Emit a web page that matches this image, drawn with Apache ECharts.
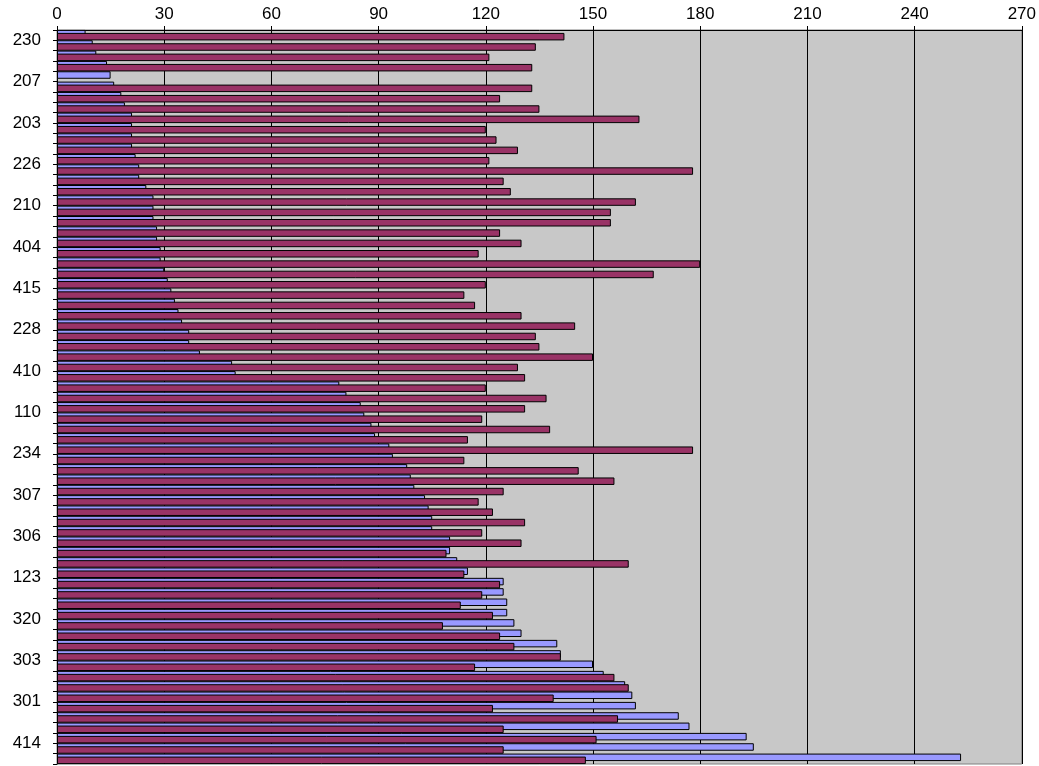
<!DOCTYPE html>
<html>
<head>
<meta charset="utf-8">
<script src="https://cdn.jsdelivr.net/npm/echarts@6/dist/echarts.min.js"></script>
<style>
html,body{margin:0;padding:0;background:#fff;}
#chart{width:1039px;height:766px;}
</style>
</head>
<body>
<div id="chart"></div>
<script>
// Category names (only every 4th is shown in the picture; others unknown)
var categories = [
  '230','','','','207','','','','203','','','','226','','','',
  '210','','','','404','','','','415','','','','228','','','',
  '410','','','','110','','','','234','','','','307','','','',
  '306','','','','123','','','','320','','','','303','','','',
  '301','','','','414','',''
];
// Series 1 (light blue)
var blueValues = [
  8,10,11,14,15,16,18,19,21,21,21,21,22,23,23,25,
  27,27,27,28,28,29,29,30,31,32,33,34,35,37,37,40,
  49,50,79,81,85,86,88,89,93,94,98,99,100,103,104,105,
  105,110,110,112,115,125,125,126,126,128,130,140,141,150,
  153,159,161,162,174,177,193,195,253
];
// Series 2 (maroon)
var maroonValues = [
  142,134,121,133,null,133,124,135,163,120,123,129,121,178,125,127,
  162,155,155,124,130,118,180,167,120,114,117,130,145,134,135,150,
  129,131,120,137,131,119,138,115,178,114,146,156,125,118,122,131,
  119,130,109,160,114,124,119,113,122,108,124,128,141,117,156,160,
  139,122,157,125,151,125,148
];
var xTicks = { min: 0, max: 270, interval: 30 };

var chart = echarts.init(document.getElementById('chart'), null, {renderer: 'canvas'});
var font = "'Liberation Sans', Arial, sans-serif";
chart.setOption({
  animation: false,
  backgroundColor: '#ffffff',
  grid: {
    left: 57, right: 17, top: 30, bottom: 2,
    show: true, backgroundColor: '#C8C8C8', borderColor: '#808080', borderWidth: 1
  },
  xAxis: {
    type: 'value', position: 'top',
    min: xTicks.min, max: xTicks.max, interval: xTicks.interval,
    axisLine: {show: true, lineStyle: {color: '#000', width: 1}},
    axisTick: {show: true, length: 4, lineStyle: {color: '#000'}},
    axisLabel: {color: '#000', fontSize: 17, fontFamily: font, margin: 7},
    splitLine: {show: true, lineStyle: {color: '#000', width: 1}}
  },
  yAxis: {
    type: 'category', inverse: true, data: categories,
    axisLine: {show: true, lineStyle: {color: '#000', width: 1}},
    axisTick: {show: true, length: 4, interval: 0, alignWithLabel: false, lineStyle: {color: '#000'}},
    axisLabel: {color: '#000', fontSize: 17, fontFamily: font, interval: 3, margin: 16,
                verticalAlign: 'top', lineHeight: 10},
    splitLine: {show: false}
  },
  series: [
    {
      type: 'bar', name: 'A', data: blueValues,
      barWidth: 7.5, barGap: '-60%',
      itemStyle: {color: '#9999FF', borderColor: '#000', borderWidth: 1}
    },
    {
      type: 'bar', name: 'B', data: maroonValues,
      barWidth: 7.5, barGap: '-60%',
      itemStyle: {color: '#993366', borderColor: '#000', borderWidth: 1}
    }
  ]
});
</script>
</body>
</html>
